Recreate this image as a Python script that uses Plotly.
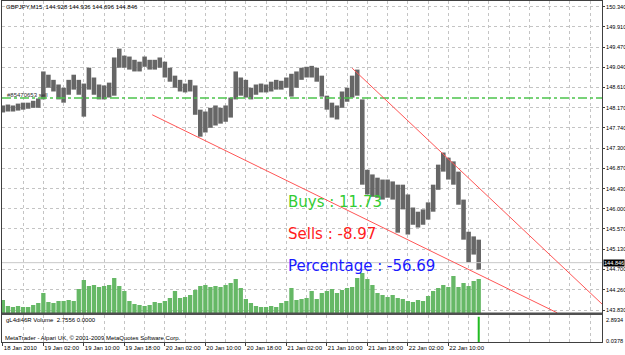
import pandas as pd
import plotly.graph_objects as go

# ---------------- data ----------------
bar_times = pd.date_range("2010-01-18 18:00", periods=95, freq="h")

high = [148.22, 148.24, 148.22, 148.26, 148.28, 148.28, 148.32, 148.37, 148.95, 148.88,
        148.77, 148.67, 148.60, 148.77, 148.88, 148.77, 148.69, 149.03, 148.82, 148.67,
        148.65, 148.71, 149.25, 149.44, 149.29, 149.27, 149.20, 149.16, 149.27, 149.20,
        149.20, 149.25, 149.16, 149.03, 148.86, 148.77, 148.69, 148.77, 148.65, 148.13,
        148.09, 148.17, 148.22, 148.17, 148.22, 148.39, 148.95, 148.82, 148.77, 148.60,
        148.67, 148.69, 148.67, 148.73, 148.77, 148.75, 148.82, 148.90, 148.95, 149.03,
        149.05, 149.07, 149.03, 148.86, 148.43, 148.28, 148.22, 148.52, 148.60, 148.86,
        148.99, 148.35, 146.84, 146.74, 146.67, 146.63, 146.63, 146.59, 146.52, 146.52,
        146.31, 146.03, 145.94, 145.99, 146.14, 146.52, 146.95, 147.21, 147.10, 147.02,
        146.80, 146.20, 145.51, 145.41, 145.34]

low = [148.07, 148.09, 148.09, 148.11, 148.13, 148.15, 148.17, 148.17, 148.35, 148.60,
       148.52, 148.35, 148.28, 148.45, 148.56, 148.45, 147.98, 148.56, 148.45, 148.35,
       148.35, 148.39, 148.43, 149.03, 149.03, 148.99, 148.95, 148.95, 149.05, 148.99,
       148.99, 149.03, 148.82, 148.73, 148.60, 148.52, 148.50, 148.52, 148.02, 147.55,
       147.64, 147.74, 147.79, 147.83, 147.87, 147.96, 148.35, 148.43, 148.39, 148.35,
       148.45, 148.50, 148.50, 148.52, 148.56, 148.56, 148.60, 148.41, 148.60, 148.77,
       148.82, 148.82, 148.73, 148.41, 148.13, 147.96, 147.92, 148.17, 148.30, 148.39,
       148.43, 146.52, 146.31, 146.26, 146.24, 146.20, 146.24, 146.20, 145.49, 145.99,
       145.45, 145.66, 145.60, 145.66, 145.77, 145.94, 146.41, 146.80, 146.63, 146.52,
       146.09, 145.34, 144.85, 145.02, 144.70]

volume = [130, 70, 60, 70, 60, 60, 80, 100, 200, 110,
          100, 120, 120, 130, 120, 240, 330, 270, 280, 260,
          270, 280, 350, 270, 220, 120, 90, 80, 70, 80,
          110, 100, 120, 150, 220, 150, 160, 180, 230, 270,
          280, 260, 270, 260, 280, 300, 340, 250, 140, 100,
          70, 60, 60, 70, 60, 100, 120, 250, 130, 140,
          150, 220, 140, 200, 220, 240, 200, 230, 250, 260,
          350, 400, 340, 280, 200, 180, 160, 180, 150, 140,
          120, 110, 130, 120, 170, 220, 250, 280, 260, 370,
          260, 300, 270, 320, 340]

trend1_times = ["2010-01-19 23:30", "2010-01-23 07:30"]
trend1_prices = [148.02, 143.77]
trend2_times = ["2010-01-21 15:00", "2010-01-23 16:32"]
trend2_prices = [149.02, 143.94]

order_price = 148.38
order_label = "#85470653 sell"
bid_price = 144.846

sub_times = ["2010-01-22 16:00"]
sub_values = [2.7556]

price_ticks = [150.340, 149.910, 149.470, 149.040, 148.610, 148.170, 147.740, 147.300,
               146.870, 146.430, 146.000, 145.570, 145.130, 144.700, 144.260, 143.830]

date_ticks = ["2010-01-18 18:00", "2010-01-19 02:00", "2010-01-19 10:00", "2010-01-19 18:00",
              "2010-01-20 02:00", "2010-01-20 10:00", "2010-01-20 18:00", "2010-01-21 02:00",
              "2010-01-21 10:00", "2010-01-21 18:00", "2010-01-22 02:00", "2010-01-22 10:00"]
date_labels = ["18 Jan 2010", "19 Jan 02:00", "19 Jan 10:00", "19 Jan 18:00",
               "20 Jan 02:00", "20 Jan 10:00", "20 Jan 18:00", "21 Jan 02:00",
               "21 Jan 10:00", "21 Jan 18:00", "22 Jan 02:00", "22 Jan 10:00"]

buys, sells, percentage = "11.73", "-8.97", "-56.69"

# ---------------- figure ----------------
SMALL = "Liberation Sans, Arial, sans-serif"
BIG = "DejaVu Sans, Verdana, sans-serif"
SZ = 6
GRID = "#c4c4c4"
FRAME = "#404040"
HOUR_MS = 3600 * 1000
x_range = ["2010-01-18 17:50", "2010-01-23 16:21"]

fig = go.Figure()

fig.add_trace(go.Bar(x=bar_times, y=volume, width=0.85 * HOUR_MS,
                     marker=dict(color="#66b866", line_width=0),
                     xaxis="x", yaxis="y3", hoverinfo="skip"))

fig.add_trace(go.Bar(x=bar_times, y=[h - l for h, l in zip(high, low)], base=low,
                     width=0.9 * HOUR_MS,
                     marker=dict(color="#666666", line_width=0),
                     xaxis="x", yaxis="y"))

fig.add_trace(go.Scatter(x=[x_range[0], x_range[1]], y=[order_price, order_price],
                         mode="lines", line=dict(color="#4cc44c", width=1.5, dash="dashdot"),
                         xaxis="x", yaxis="y"))
fig.add_trace(go.Scatter(x=[x_range[0], x_range[1]], y=[bid_price, bid_price],
                         mode="lines", line=dict(color="#c8c8c8", width=1),
                         xaxis="x", yaxis="y"))
fig.add_trace(go.Scatter(x=trend1_times, y=trend1_prices, mode="lines",
                         line=dict(color="#ff5555", width=1), xaxis="x", yaxis="y"))
fig.add_trace(go.Scatter(x=trend2_times, y=trend2_prices, mode="lines",
                         line=dict(color="#ff5555", width=1), xaxis="x", yaxis="y"))

fig.add_trace(go.Bar(x=sub_times, y=sub_values, width=0.4 * HOUR_MS,
                     marker=dict(color="#22bb22", line_width=0),
                     xaxis="x2", yaxis="y2"))

main_bottom = (342 - 313) / 341
sub_top = (342 - 315) / 341

xcommon = dict(type="date", range=x_range, showgrid=True, gridcolor=GRID, griddash="dot",
               gridwidth=1, showline=True, mirror=True, linecolor=FRAME, linewidth=1,
               zeroline=False, tickvals=date_ticks, automargin=False, tickangle=0,
               minor=dict(dtick=4 * HOUR_MS, tick0="2010-01-18 18:00", showgrid=True,
                          gridcolor=GRID, griddash="dot", ticks=""))

fig.update_layout(
    width=625, height=355,
    margin=dict(l=2, r=23, t=1, b=13, autoexpand=False),
    paper_bgcolor="white", plot_bgcolor="white",
    showlegend=False, barmode="overlay",
    font=dict(family=SMALL, size=SZ, color="black"),
    xaxis=dict(**xcommon, anchor="y", showticklabels=False, ticks=""),
    xaxis2=dict(**xcommon, anchor="y2", matches="x", ticktext=date_labels,
                ticks="outside", ticklen=3, tickcolor=FRAME,
                ticklabelposition="outside right", tickfont=dict(size=SZ)),
    yaxis=dict(domain=[main_bottom, 1], range=[143.766, 150.462], side="right",
               tickvals=price_ticks, ticktext=[f"{v:.3f}" for v in price_ticks],
               ticks="outside", ticklen=2, tickcolor=FRAME, tickfont=dict(size=5.6),
               showgrid=True, gridcolor=GRID, griddash="dot", zeroline=False,
               showline=True, mirror=True, linecolor=FRAME, anchor="x", automargin=False),
    yaxis3=dict(overlaying="y", range=[0, 3120], visible=False, anchor="x"),
    yaxis2=dict(domain=[0, sub_top], range=[0, 2.95], side="right", showticklabels=False,
                ticks="", showgrid=False, zeroline=False, showline=True, mirror=True,
                linecolor=FRAME, anchor="x2", automargin=False),
)

fig.add_shape(type="rect", xref="paper", yref="paper", x0=0, x1=1,
              y0=sub_top, y1=(342 - 312.5) / 341, fillcolor="#505050", line_width=0)

def ann(text, x, y, size=SZ, color="black", family=SMALL, xanchor="left", **kw):
    fig.add_annotation(text=text, x=x, y=y, xref="paper", yref="paper", showarrow=False,
                       xanchor=xanchor, yanchor="middle", font=dict(size=size, color=color,
                       family=family), **kw)

ann("GBPJPY,M15  144.928 144.936 144.696 144.846", 0.0035, (342 - 7) / 341)
ann(order_label, 0.005, (342 - 95) / 341, color="#303030")
ann(f"Buys : {buys}", 0.473, (342 - 202) / 341, size=15, color="#33cc33", family=BIG)
ann(f"Sells : {sells}", 0.473, (342 - 234) / 341, size=15, color="#ff2020", family=BIG)
ann(f"Percentage : {percentage}", 0.473, (342 - 266) / 341, size=15, color="#1a1aff", family=BIG)
ann("gL4di46R Volume  2.7556 0.0000", 0.004, (342 - 320) / 341)
ann("MetaTrader - Alpari UK, \u00a9 2001-2009 MetaQuotes Software Corp.", 0.002, (342 - 338) / 341)
ann("2.8934", 1.003, (342 - 320) / 341, size=5.6)
ann("0.0378", 1.003, (342 - 341) / 341, size=5.6)

fig.add_annotation(text=f"{bid_price:.3f}", x=1.002, y=bid_price, xref="paper", yref="y",
                   showarrow=False, xanchor="left", yanchor="middle", bgcolor="black",
                   borderpad=0, font=dict(size=5.6, color="white", family=SMALL))

fig.write_html("out.html")
